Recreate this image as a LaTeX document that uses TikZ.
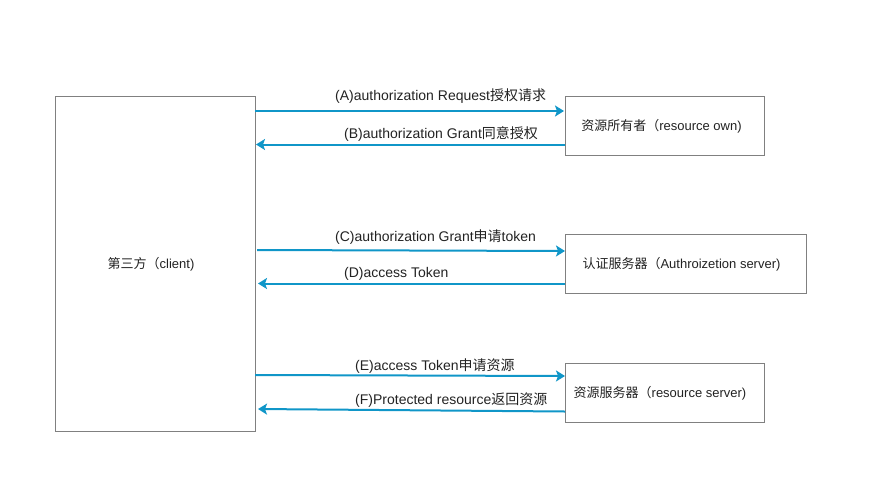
\documentclass[tikz,border=0pt]{standalone}
\usepackage{fontspec}
\setmainfont{Liberation Sans}
\newfontfamily\cjk{Noto Sans CJK SC}
\usetikzlibrary{arrows.meta}
\definecolor{arrblue}{RGB}{16,150,200}
\definecolor{boxgray}{RGB}{128,128,128}
\definecolor{txt}{RGB}{34,34,34}
\tikzset{
  box/.style={draw=boxgray, line width=1pt, inner sep=0pt, fill=white, text=txt, font=\fontsize{13}{15}\selectfont},
  arr/.style={draw=arrblue, line width=2pt, -{Stealth[length=9pt,width=11pt,inset=2pt]}, shorten >=1pt},
  lbl/.style={anchor=base west, inner sep=0pt, text=txt, font=\fontsize{14}{16}\selectfont}
}
\begin{document}
\begin{tikzpicture}[x=1pt,y=-1pt]
\useasboundingbox (0,0) rectangle (888,496);
% boxes
\node[box, minimum width=200pt, minimum height=335pt] (client) at (155,263.5) {};
\node[txt, font=\fontsize{13}{15}\selectfont, inner sep=0pt] (clienttxt) at (151,264) {{\cjk 第三方（}client)};
\node[box, minimum width=199pt, minimum height=59pt] (ro) at (664.5,125.5) {};
\node[txt, font=\fontsize{13}{15}\selectfont, inner sep=0pt] (rotxt) at (661.5,126.5) {{\cjk 资源所有者（}resource own)};
\node[box, minimum width=241pt, minimum height=59pt] (as) at (685.5,263.5) {};
\node[txt, font=\fontsize{13}{15}\selectfont, inner sep=0pt] (astxt) at (681.5,264.5) {{\cjk 认证服务器（}Authroizetion server)};
\node[box, minimum width=199pt, minimum height=59pt] (rs) at (664.5,392.5) {};
\node[txt, font=\fontsize{13}{15}\selectfont, inner sep=0pt] (rstxt) at (660,393.5) {{\cjk 资源服务器（}resource server)};
% connector end points on box edges
\coordinate (a1) at (255,111);   \coordinate (a2) at (565,111);
\coordinate (b1) at (565,144.5); \coordinate (b2) at (255,144.5);
\coordinate (c1) at (257,250);   \coordinate (c2) at (566,251);
\coordinate (d1) at (565,283.5); \coordinate (d2) at (257,283.5);
\coordinate (e1) at (255,375);   \coordinate (e2) at (566,376);
\coordinate (f1) at (565,411.5); \coordinate (f2) at (257,409);
\draw[arr] (a1) -- (a2);
\draw[arr] (b1) -- (b2);
\draw[arr] (c1) -- (c2);
\draw[arr] (d1) -- (d2);
\draw[arr] (e1) -- (e2);
\draw[arr] (f1) -- (f2);
% labels
\node[lbl] (la) at (335,100) {(A)authorization Request{\cjk 授权请求}};
\node[lbl] (lb) at (344,138) {(B)authorization Grant{\cjk 同意授权}};
\node[lbl] (lc) at (335,241) {(C)authorization Grant{\cjk 申请}token};
\node[lbl] (ld) at (344,277) {(D)access Token};
\node[lbl] (le) at (355,370) {(E)access Token{\cjk 申请资源}};
\node[lbl] (lf) at (355,404) {(F)Protected resource{\cjk 返回资源}};
\end{tikzpicture}
\end{document}
